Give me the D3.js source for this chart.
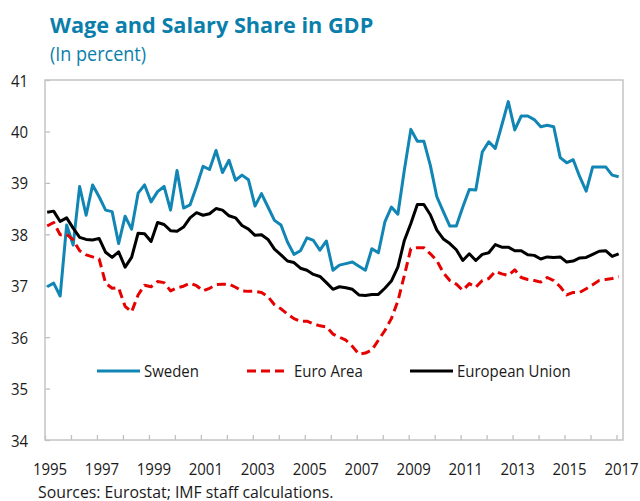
<!DOCTYPE html>
<head>
  <meta charset="utf-8">
  <script src="https://d3js.org/d3.v7.min.js"></script>
  <style>
    body { margin: 0; background: #fff; }
    svg { width: 640px; height: 501px; display: block; }
    text { font-family: "Open Sans", "Noto Sans", sans-serif; }
  </style>
</head>

<body>
  <svg></svg>

  <script>
    // quarterly data, 1995Q1 .. 2017Q1
    const startYear = 1995;

    const sweden = [
      36.98, 37.05, 36.80, 38.18, 37.79, 38.93, 38.37, 38.96, 38.73, 38.47,
      38.44, 37.82, 38.35, 38.10, 38.80, 38.96, 38.63, 38.83, 38.93, 38.47,
      39.24, 38.51, 38.57, 38.93, 39.32, 39.26, 39.63, 39.20, 39.44, 39.05,
      39.15, 39.06, 38.55, 38.79, 38.53, 38.27, 38.18, 37.85, 37.61, 37.68,
      37.93, 37.88, 37.69, 37.87, 37.30, 37.40, 37.43, 37.46, 37.38, 37.30,
      37.72, 37.64, 38.24, 38.53, 38.39, 39.25, 40.04, 39.81, 39.81, 39.34,
      38.73, 38.44, 38.16, 38.16, 38.53, 38.87, 38.86, 39.60, 39.80, 39.67,
      40.12, 40.58, 40.03, 40.30, 40.30, 40.23, 40.09, 40.12, 40.09, 39.49,
      39.39, 39.45, 39.12, 38.84, 39.31, 39.31, 39.31, 39.15, 39.12
    ];

    const euroArea = [
      38.16, 38.23, 37.99, 38.00, 37.89, 37.68, 37.60, 37.56, 37.52, 37.05,
      36.95, 36.96, 36.60, 36.49, 36.82, 37.01, 36.98, 37.08, 37.06, 36.90,
      36.96, 36.99, 37.05, 37.00, 36.90, 36.95, 37.02, 37.03, 37.03, 36.97,
      36.90, 36.89, 36.89, 36.87, 36.79, 36.63, 36.55, 36.45, 36.36, 36.31,
      36.31, 36.26, 36.22, 36.20, 36.06, 36.00, 35.94, 35.82, 35.67, 35.69,
      35.75, 35.94, 36.13, 36.36, 36.70, 37.20, 37.72, 37.74, 37.74, 37.62,
      37.49, 37.25, 37.10, 37.03, 36.91, 37.04, 36.97, 37.10, 37.14, 37.28,
      37.23, 37.20, 37.31, 37.16, 37.12, 37.10, 37.07, 37.16, 37.10, 36.98,
      36.82, 36.87, 36.87, 36.94, 37.02, 37.10, 37.12, 37.14, 37.18
    ];

    const europeanUnion = [
      38.43, 38.45, 38.25, 38.32, 38.12, 37.94, 37.90, 37.89, 37.92, 37.65,
      37.55, 37.66, 37.36, 37.55, 38.02, 38.01, 37.86, 38.23, 38.19, 38.07,
      38.06, 38.14, 38.32, 38.42, 38.37, 38.40, 38.50, 38.47, 38.36, 38.32,
      38.17, 38.10, 37.98, 37.99, 37.90, 37.71, 37.60, 37.48, 37.45, 37.34,
      37.30, 37.22, 37.18, 37.06, 36.93, 36.98, 36.96, 36.93, 36.82, 36.81,
      36.83, 36.83, 36.95, 37.09, 37.36, 37.88, 38.21, 38.58, 38.58, 38.38,
      38.08, 37.91, 37.82, 37.70, 37.49, 37.62, 37.49, 37.61, 37.64, 37.80,
      37.75, 37.75, 37.68, 37.68, 37.60, 37.59, 37.52, 37.56, 37.55, 37.56,
      37.46, 37.48, 37.54, 37.55, 37.61, 37.67, 37.68, 37.57, 37.62
    ];

    const yearTicks = d3.range(1995, 2018);
    const yTicks = [34, 35, 36, 37, 38, 39, 40, 41];

    const series = [
      { name: 'Sweden', values: sweden, color: '#1186b5', dash: null },
      { name: 'Euro Area', values: euroArea, color: '#e60000', dash: '9,5' },
      { name: 'European Union', values: europeanUnion, color: '#000000', dash: null }
    ];

    const blue = '#0b7fab';

    const svg = d3.select('svg');
    const plot = { left: 45, right: 623, top: 80, bottom: 440 };

    const x = d3.scaleLinear().domain([1995, 2017.25]).range([plot.left, plot.right]);
    const y = d3.scaleLinear().domain([34, 41]).range([plot.bottom, plot.top]);

    // date of each quarter (middle month start)
    const dateOf = i => startYear + Math.floor(i / 4) + ((i % 4) * 3 + 1) / 12;

    // narrow the glyphs a bit, the source font is tighter than Open Sans
    function squeeze(sel, k) {
      sel.each(function() {
        const w = this.getComputedTextLength();
        if (w > 0) {
          d3.select(this)
            .attr('textLength', w * k)
            .attr('lengthAdjust', 'spacingAndGlyphs');
        }
      });
    }

    /*****************************************************
    ** titles
    ******************************************************/
    const title = svg.append('text')
      .attr('x', 50).attr('y', 33)
      .attr('fill', blue)
      .style('font-size', '22px')
      .style('font-weight', 700)
      .text('Wage and Salary Share in GDP');

    const subtitle = svg.append('text')
      .attr('x', 50).attr('y', 61)
      .attr('fill', blue)
      .style('font-size', '20px')
      .text('(In percent)');

    /*****************************************************
    ** axes
    ******************************************************/
    const yAxis = svg.append('g')
      .attr('transform', `translate(${plot.left},0)`)
      .call(d3.axisLeft(y).tickValues(yTicks).tickFormat(d3.format('d'))
        .tickSizeInner(-5).tickSizeOuter(0).tickPadding(17));

    const xAxis = svg.append('g')
      .attr('transform', `translate(0,${plot.bottom})`)
      .call(d3.axisBottom(x).tickValues(yearTicks).tickSizeInner(-5).tickSizeOuter(0)
        .tickFormat(d => (d - 1995) % 2 === 0 ? d : ''));

    [xAxis, yAxis].forEach(g => {
      g.select('.domain').remove();
      g.selectAll('.tick line').attr('stroke', '#bfbfbf').attr('stroke-width', 1.3);
      g.selectAll('.tick text')
        .attr('fill', '#1a1a1a')
        .style('font-size', '17px')
        .style('font-family', '"Open Sans", "Noto Sans", sans-serif');
    });

    yAxis.selectAll('.tick text').attr('dy', '0.36em');
    xAxis.selectAll('.tick text').attr('x', 4.5).attr('y', 35).attr('dy', 0);

    svg.append('rect')
      .attr('x', plot.left).attr('y', plot.top)
      .attr('width', plot.right - plot.left).attr('height', plot.bottom - plot.top)
      .attr('fill', 'none')
      .attr('stroke', '#c4c4c4')
      .attr('stroke-width', 1.5);

    /*****************************************************
    ** lines
    ******************************************************/
    const line = d3.line()
      .x((d, i) => x(dateOf(i)))
      .y(d => y(d));

    svg.selectAll('path.series')
      .data(series).enter().append('path')
      .attr('class', 'series')
      .attr('d', d => line(d.values))
      .attr('fill', 'none')
      .attr('stroke', d => d.color)
      .attr('stroke-width', 3)
      .attr('stroke-linejoin', 'round')
      .attr('stroke-dasharray', d => d.dash);

    /*****************************************************
    ** legend
    ******************************************************/
    const legendX = [97, 247, 410];
    const legend = svg.selectAll('g.legend')
      .data(series).enter().append('g')
      .attr('class', 'legend')
      .attr('transform', (d, i) => `translate(${legendX[i]}, 371)`);

    legend.append('line')
      .attr('x1', 0).attr('x2', (d, i) => i === 1 ? 38 : 43)
      .attr('y1', 0).attr('y2', 0)
      .attr('stroke', d => d.color)
      .attr('stroke-width', 3)
      .attr('stroke-dasharray', d => d.dash);

    legend.append('text')
      .attr('x', 47)
      .attr('y', 6)
      .attr('fill', '#1a1a1a')
      .style('font-size', '17px')
      .text(d => d.name);

    /*****************************************************
    ** source note
    ******************************************************/
    const source = svg.append('text')
      .attr('x', 38).attr('y', 498)
      .attr('fill', '#1a1a1a')
      .style('font-size', '17px')
      .text('Sources: Eurostat; IMF staff calculations.');

    squeeze(svg.selectAll('.tick text'), 0.88);
    squeeze(legend.selectAll('text'), 0.88);
    squeeze(source, 0.93);
    squeeze(title, 0.985);
    squeeze(subtitle, 0.9);
  </script>
</body>
